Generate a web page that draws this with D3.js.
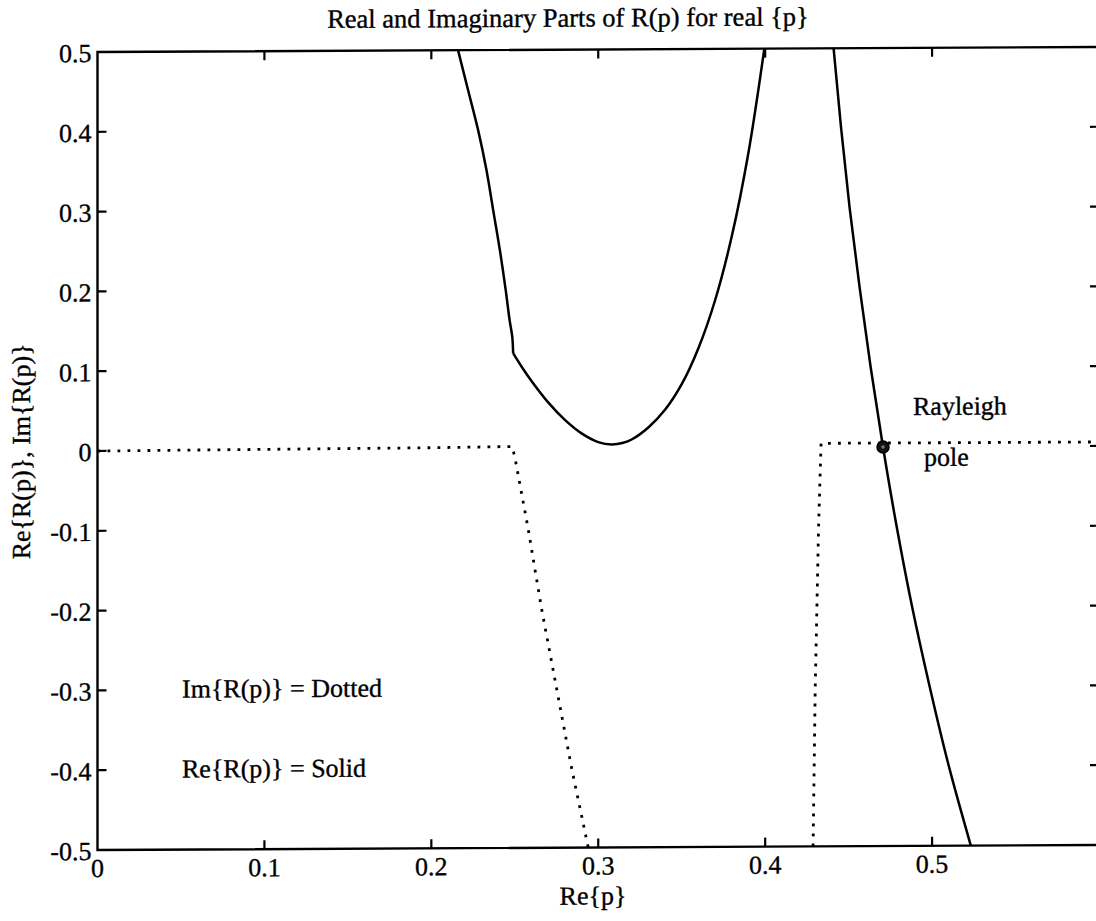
<!DOCTYPE html>
<html>
<head>
<meta charset="utf-8">
<script src="https://cdn.jsdelivr.net/npm/d3@7/dist/d3.min.js"></script>
<style>
  html, body { margin: 0; padding: 0; background: #fff; }
  svg text { font-family: "Liberation Serif", "Times New Roman", serif; fill: #000; stroke: #000; stroke-width: 0.35px; }
</style>
</head>
<body>
<svg id="chart" width="1096" height="921"></svg>
<script>
// Re{R(p)} branch left of the Rayleigh region (solid): descending arm up to the kink
const reArmP = [0.216, 0.222, 0.228, 0.233, 0.237, 0.241, 0.2445, 0.247, 0.2485, 0.249];
const reArmR = [0.50, 0.45, 0.40, 0.35, 0.30, 0.25, 0.20, 0.16, 0.14, 0.12];
// ...and the bowl from the kink back up to the top edge
const reBowlP = [0.249, 0.255, 0.260, 0.270, 0.280, 0.290, 0.300, 0.308, 0.315, 0.320, 0.330, 0.340, 0.350, 0.360, 0.370, 0.380, 0.390, 0.3995];
const reBowlR = [0.12, 0.10, 0.085, 0.058, 0.036, 0.019, 0.008, 0.005, 0.007, 0.011, 0.026, 0.048, 0.080, 0.125, 0.185, 0.265, 0.370, 0.50];
// Re{R(p)} branch through the Rayleigh pole (solid)
const reBranch2P = [0.441, 0.4455, 0.4506, 0.4566, 0.4632, 0.4706, 0.4788, 0.4880, 0.4985, 0.5100, 0.5232];
const reBranch2R = [0.50, 0.40, 0.30, 0.20, 0.10, 0.0, -0.10, -0.20, -0.30, -0.40, -0.50];
// Im{R(p)} pieces (dotted)
const imBranch1P = [0.0, 0.100, 0.200, 0.2484, 0.250, 0.258, 0.266, 0.275, 0.284, 0.294];
const imBranch1R = [0.0, 0.001, 0.002, 0.003, -0.01, -0.10, -0.20, -0.30, -0.40, -0.50];
const imBranch2P = [0.4287, 0.430, 0.432, 0.4335, 0.450, 0.500, 0.550, 0.600];
const imBranch2R = [-0.50, -0.30, -0.10, 0.005, 0.005, 0.005, 0.005, 0.005];
// Rayleigh pole
const poleP = [0.4706];
const poleR = [0.0];

const xTicks = [0, 0.1, 0.2, 0.3, 0.4, 0.5];
const yTicks = [0.5, 0.4, 0.3, 0.2, 0.1, 0, -0.1, -0.2, -0.3, -0.4, -0.5];
const tickLabel = v => (v === 0 ? "0" : String(v));

const svg = d3.select("#chart");
const margin = { left: 97.5, right: 1099, top: 52, bottom: 850 };

const x = d3.scaleLinear().domain([0, 0.6]).range([margin.left, margin.right]);
const y = d3.scaleLinear().domain([-0.5, 0.5]).range([margin.bottom, margin.top]);

// slight skew of the whole sheet
const g = svg.append("g").attr("transform", "translate(0,0.5) skewY(-0.29)");

const zip = (a, b) => a.map((v, i) => [v, b[i]]);
const line = d3.line().x(d => x(d[0])).y(d => y(d[1]));
const smoothY = d3.line().x(d => x(d[0])).y(d => y(d[1])).curve(d3.curveMonotoneY);
const smoothX = d3.line().x(d => x(d[0])).y(d => y(d[1])).curve(d3.curveCatmullRom.alpha(0.5));

// frame
g.append("rect")
  .attr("x", x(0)).attr("y", y(0.5))
  .attr("width", x(0.6) - x(0)).attr("height", y(-0.5) - y(0.5))
  .attr("fill", "none").attr("stroke", "#000").attr("stroke-width", 2.4);

const tickLen = 9;
// bottom / top ticks
g.selectAll(".xt").data(xTicks.slice(1)).join("path")
  .attr("d", d => `M${x(d)},${y(-0.5)}v${-tickLen}M${x(d)},${y(0.5)}v${tickLen}`)
  .attr("stroke", "#000").attr("stroke-width", 2.2);
// left / right ticks
g.selectAll(".yt").data(yTicks.slice(1, -1)).join("path")
  .attr("d", d => `M${x(0)},${y(d)}h${tickLen}M${x(0.6)},${y(d)}h${-tickLen}`)
  .attr("stroke", "#000").attr("stroke-width", 2.2);

// tick labels
g.selectAll(".xl").data(xTicks).join("text")
  .attr("x", d => x(d)).attr("y", y(-0.5) + 27)
  .attr("text-anchor", "middle").attr("font-size", 26)
  .text(tickLabel);
g.selectAll(".yl").data(yTicks).join("text")
  .attr("x", x(0) - 6).attr("y", d => y(d) + 10)
  .attr("text-anchor", "end").attr("font-size", 26)
  .text(tickLabel);

// axis labels and title
g.append("text").attr("x", 593).attr("y", 907)
  .attr("text-anchor", "middle").attr("font-size", 26).text("Re{p}");
g.append("text").attr("transform", `translate(30,${(y(0.5) + y(-0.5)) / 2}) rotate(-90)`)
  .attr("text-anchor", "middle").attr("font-size", 26).text("Re{R(p)}, Im{R(p)}");
g.append("text").attr("x", 568).attr("y", 29)
  .attr("text-anchor", "middle").attr("font-size", 26.5)
  .text("Real and Imaginary Parts of R(p) for real {p}");

// curves
const plot = g.append("g");
[zip(imBranch1P, imBranch1R), zip(imBranch2P, imBranch2R)].forEach(d => {
  plot.append("path").attr("d", line(d))
    .attr("fill", "none").attr("stroke", "#000").attr("stroke-width", 2.8)
    .attr("stroke-dasharray", "2.8 7.2");
});
const solid = path => path.attr("fill", "none").attr("stroke", "#000")
  .attr("stroke-width", 2.5).attr("stroke-linejoin", "round");
solid(plot.append("path").attr("d", smoothY(zip(reArmP, reArmR))));
solid(plot.append("path").attr("d", smoothX(zip(reBowlP, reBowlR))));
solid(plot.append("path").attr("d", smoothY(zip(reBranch2P, reBranch2R))));

// pole marker
const pole = zip(poleP, poleR);
plot.selectAll(".pole").data(pole).join("circle")
  .attr("cx", d => x(d[0])).attr("cy", d => y(d[1])).attr("r", 6)
  .attr("fill", "#111").attr("stroke", "#000").attr("stroke-width", 1.5);
plot.selectAll(".polec").data(pole).join("circle")
  .attr("cx", d => x(d[0])).attr("cy", d => y(d[1])).attr("r", 1.8)
  .attr("fill", "#777");

// annotations
g.append("text").attr("x", 913).attr("y", 419).attr("font-size", 26).text("Rayleigh");
g.append("text").attr("x", 924).attr("y", 470).attr("font-size", 26).text("pole");
g.append("text").attr("x", 182).attr("y", 698).attr("font-size", 26).text("Im{R(p)} = Dotted");
g.append("text").attr("x", 182).attr("y", 778).attr("font-size", 26).text("Re{R(p)} = Solid");
</script>
</body>
</html>
